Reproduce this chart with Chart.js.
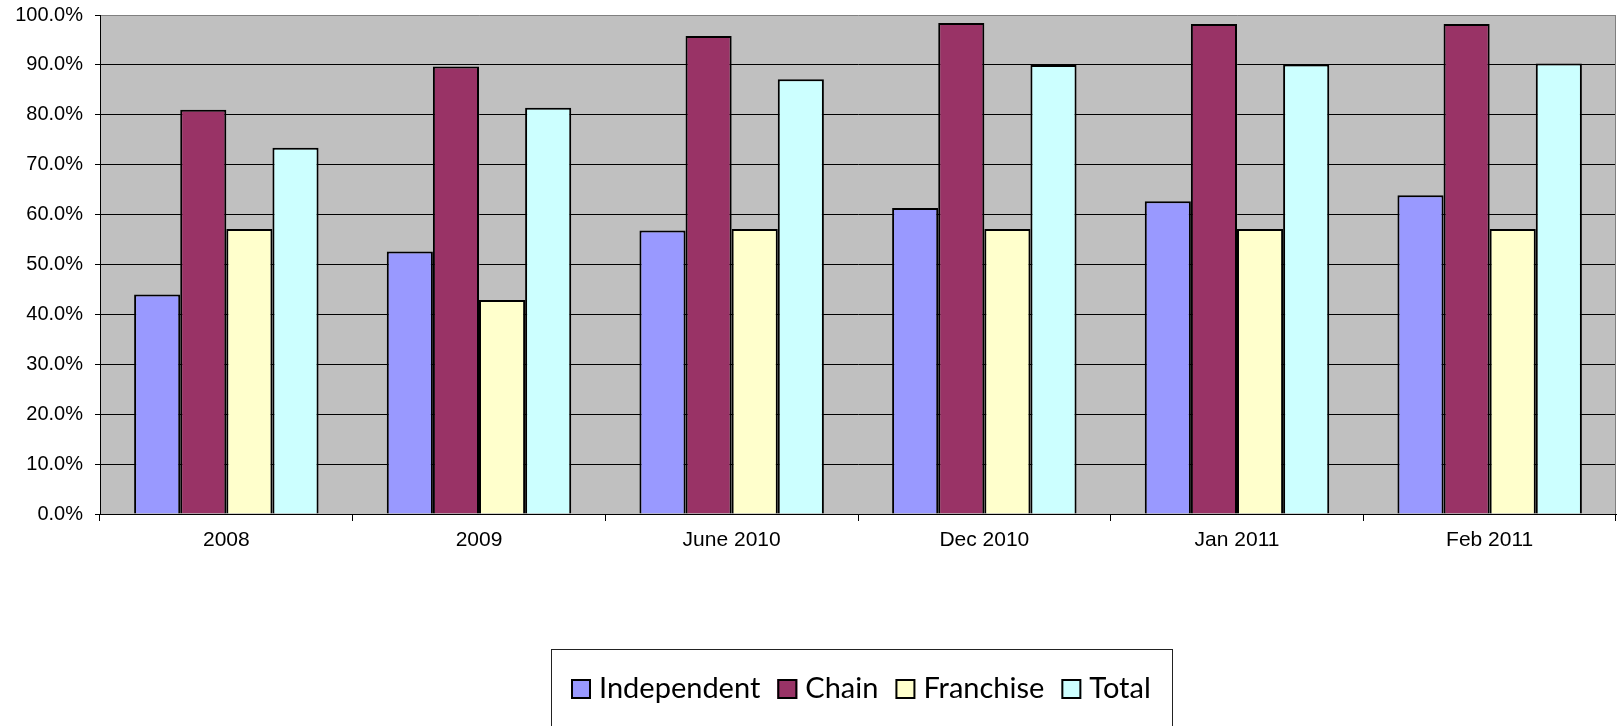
<!DOCTYPE html>
<html>
<head>
<meta charset="utf-8">
<script src="https://cdn.jsdelivr.net/npm/chart.js"></script>
<style>
  html, body { margin: 0; padding: 0; background: #fff; }
  #wrap { width: 1623px; height: 726px; }
</style>
</head>
<body>
<div id="wrap"><canvas id="chart" width="1623" height="726"></canvas></div>
<script>
// data
const categories = ['2008', '2009', 'June 2010', 'Dec 2010', 'Jan 2011', 'Feb 2011'];
const independent = [44.0, 52.6, 56.8, 61.3, 62.7, 63.9];
const chain = [81.0, 89.7, 95.8, 98.4, 98.2, 98.2];
const franchise = [57.1, 42.9, 57.1, 57.1, 57.1, 57.1];
const total = [73.4, 81.4, 87.1, 90.0, 90.1, 90.3];
const seriesNames = ['Independent', 'Chain', 'Franchise', 'Total'];
const seriesColors = ['#9999FF', '#993366', '#FFFFCC', '#CCFFFF'];

const axisFont = { family: 'Liberation Sans', size: 20 };

// grey plot background + grey right edge
const plotFrame = {
    id: 'plotFrame',
    beforeDraw(chart) {
        const { ctx, chartArea: a } = chart;
        ctx.save();
        ctx.fillStyle = '#C0C0C0';
        ctx.fillRect(a.left, a.top, a.right - a.left, a.bottom - a.top);
        ctx.restore();
    },
    afterDraw(chart) {
        const { ctx, chartArea: a } = chart;
        ctx.save();
        ctx.strokeStyle = '#808080';
        ctx.lineWidth = 1;
        ctx.beginPath();
        ctx.moveTo(a.right - 0.5, a.top);
        ctx.lineTo(a.right - 0.5, a.bottom);
        ctx.stroke();
        ctx.restore();
    }
};

// boxed legend under the chart
const boxLegend = {
    id: 'boxLegend',
    afterDraw(chart) {
        const ctx = chart.ctx;
        ctx.save();
        ctx.strokeStyle = '#222';
        ctx.lineWidth = 1;
        ctx.strokeRect(551.5, 649.5, 621, 120);
        ctx.font = '29px Lato';
        ctx.textBaseline = 'alphabetic';
        let x = 571;
        chart.data.datasets.forEach(ds => {
            ctx.fillStyle = ds.backgroundColor;
            ctx.fillRect(x, 679, 20, 20);
            ctx.lineWidth = 2;
            ctx.strokeStyle = '#000';
            ctx.strokeRect(x + 1, 680, 18, 18);
            ctx.fillStyle = '#000';
            ctx.fillText(ds.label, x + 28, 698);
            x += 28 + ctx.measureText(ds.label).width + 17;
        });
        ctx.restore();
    }
};

const seriesData = [independent, chain, franchise, total];

function draw() {
    new Chart(document.getElementById('chart'), {
        type: 'bar',
        data: {
            labels: categories,
            datasets: seriesNames.map((name, i) => ({
                label: name,
                data: seriesData[i],
                backgroundColor: seriesColors[i],
                borderColor: '#000',
                borderWidth: 2,
                categoryPercentage: 0.73,
                barPercentage: 1
            }))
        },
        options: {
            responsive: false,
            animation: false,
            devicePixelRatio: 1,
            layout: { padding: { top: 15, right: 7, left: 0, bottom: 0 } },
            plugins: { legend: { display: false }, tooltip: { enabled: false } },
            scales: {
                x: {
                    grid: { offset: true, drawOnChartArea: false, drawTicks: true, tickLength: 7, color: '#000' },
                    border: { color: '#000', width: 1 },
                    ticks: { font: { family: 'Liberation Sans', size: 21 }, color: '#000', padding: 7, maxRotation: 0 },
                    afterFit(s) { s.height = 212; s.paddingLeft = 0; s.paddingRight = 0; }
                },
                y: {
                    min: 0,
                    max: 100,
                    ticks: {
                        stepSize: 10,
                        font: axisFont,
                        color: '#000',
                        padding: 12,
                        callback: v => v.toFixed(1) + '%'
                    },
                    grid: {
                        color: c => (c.tick && c.tick.value === 100) ? '#808080' : '#000',
                        tickColor: '#000',
                        tickLength: 5,
                        lineWidth: 1
                    },
                    border: { color: '#000', width: 1 },
                    afterFit(s) { s.width = 100; s.paddingTop = 0; s.paddingBottom = 0; }
                }
            }
        },
        plugins: [plotFrame, boxLegend]
    });
}

Promise.all([
    document.fonts.load('29px Lato'),
    document.fonts.load('20px "Liberation Sans"')
]).then(draw, draw);
</script>
</body>
</html>
